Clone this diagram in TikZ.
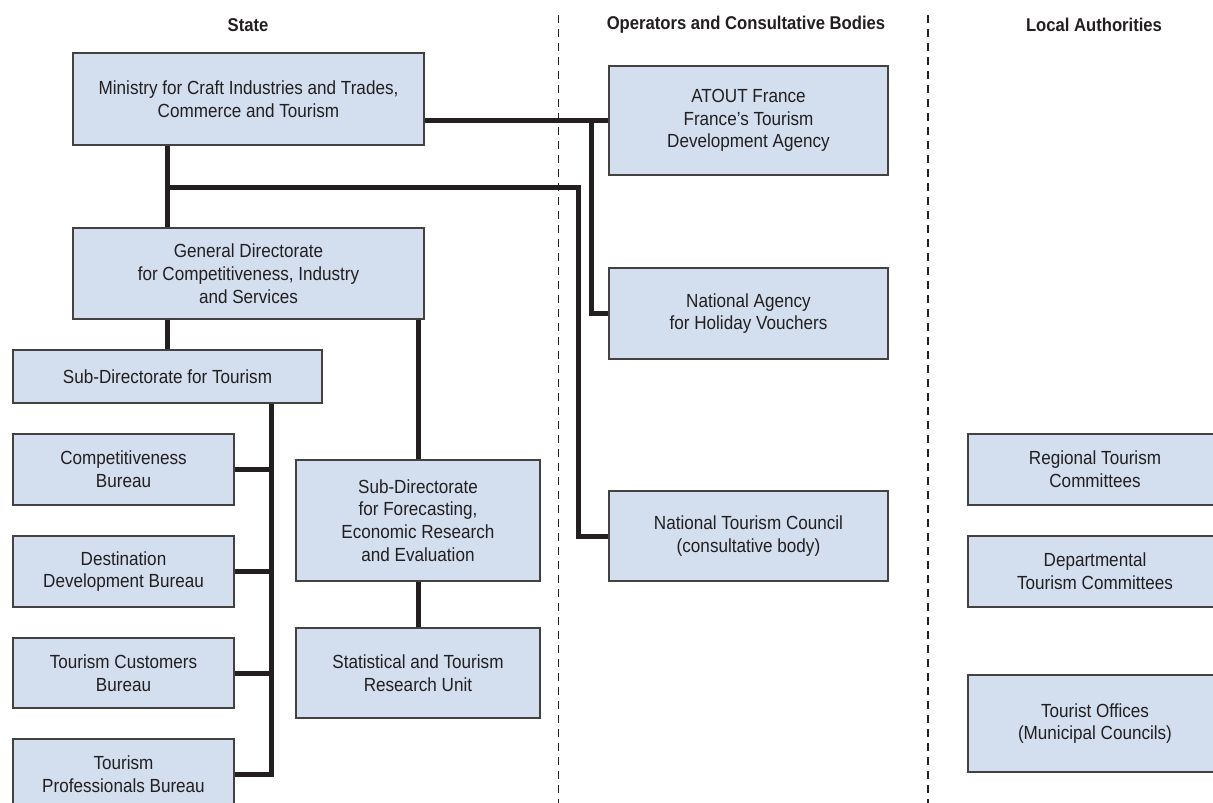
\documentclass[tikz,border=0pt]{standalone}
\usepackage{fontspec}
\setmainfont{Liberation Sans}[FakeStretch=0.9]
\definecolor{boxfill}{RGB}{211,222,239}
\definecolor{ink}{RGB}{35,31,32}
\begin{document}
\begin{tikzpicture}[x=1pt,y=-1pt,
  orgbox/.style={draw=ink!85, line width=1.3pt, fill=boxfill, inner sep=0pt,
    align=center, text=ink, font=\fontsize{19}{22.8}\selectfont},
  header/.style={text=ink, font=\bfseries\fontsize{18.5}{22}\selectfont, inner sep=0pt},
  link/.style={draw=ink, line width=5pt, line join=miter},
  divider/.style={draw=ink, line width=1.5pt, dash pattern=on 7.5pt off 6.5pt}]
\useasboundingbox (0,0) rectangle (1213,803);
\clip (0,0) rectangle (1213,803);

% column dividers
\coordinate (d1top) at (558.5,15);
\coordinate (d1bot) at (558.5,803);
\coordinate (d2top) at (928,15);
\coordinate (d2bot) at (928,803);
\draw[divider] (d1top) -- (d1bot);
\draw[divider] (d2top) -- (d2bot);

% headers
\node[header] (hstate) at (248,25) {State};
\node[header] (hops) at (746,25) {Operators and Consultative Bodies};
\node[header] (hlocal) at (1094,25) {Local Authorities};

% State column
\node[orgbox, minimum width=351pt, minimum height=92pt] (min) at (248.5,99)
  {Ministry for Craft Industries and Trades,\\Commerce and Tourism};
\node[orgbox, minimum width=351pt, minimum height=91pt] (gd) at (248.5,273.5)
  {General Directorate\\for Competitiveness, Industry\\and Services};
\node[orgbox, minimum width=309pt, minimum height=53pt] (sdt) at (167.5,376.5)
  {Sub-Directorate for Tourism};
\node[orgbox, minimum width=221pt, minimum height=71pt] (comp) at (123.5,469.5)
  {Competitiveness\\Bureau};
\node[orgbox, minimum width=221pt, minimum height=71pt] (dest) at (123.5,571.5)
  {Destination\\Development Bureau};
\node[orgbox, minimum width=221pt, minimum height=70pt] (cust) at (123.5,673)
  {Tourism Customers\\Bureau};
\node[orgbox, minimum width=221pt, minimum height=71pt] (prof) at (123.5,774.5)
  {Tourism\\Professionals Bureau};
\node[orgbox, minimum width=244pt, minimum height=121pt] (fore) at (418,520.5)
  {Sub-Directorate\\for Forecasting,\\Economic Research\\and Evaluation};
\node[orgbox, minimum width=244pt, minimum height=90pt] (stat) at (418,673)
  {Statistical and Tourism\\Research Unit};

% Operators column
\node[orgbox, minimum width=279pt, minimum height=109pt] (atout) at (748.5,120.5)
  {ATOUT France\\France’s Tourism\\Development Agency};
\node[orgbox, minimum width=279pt, minimum height=91pt] (nahv) at (748.5,313.5)
  {National Agency\\for Holiday Vouchers};
\node[orgbox, minimum width=279pt, minimum height=90pt] (ntc) at (748.5,536)
  {National Tourism Council\\(consultative body)};

% Local authorities column
\node[orgbox, minimum width=254pt, minimum height=71pt] (reg) at (1095,469.5)
  {Regional Tourism\\Committees};
\node[orgbox, minimum width=254pt, minimum height=71pt] (dep) at (1095,571.5)
  {Departmental\\Tourism Committees};
\node[orgbox, minimum width=254pt, minimum height=97pt] (tof) at (1095,723.5)
  {Tourist Offices\\(Municipal Councils)};

% connectors
\coordinate (busA) at (591,0);
\coordinate (busB) at (578,187);
\coordinate (busC) at (271,0);
\draw[link] (atout.west -| min.east) -- (atout.west);
\draw[link] (busA |- atout.west) |- (nahv.west);
\draw[link] (min.south -| sdt.north) -- (gd.north -| sdt.north);
\draw[link] (sdt.north |- busB) -- (busB) |- (ntc.west);
\draw[link] (gd.south -| sdt.north) -- (sdt.north);
\draw[link] (gd.south -| fore.north) -- (fore.north);
\draw[link] (fore.south) -- (stat.north);
\draw[link] (busC |- sdt.south) |- (prof.east);
\draw[link] (comp.east) -- (busC |- comp.east);
\draw[link] (dest.east) -- (busC |- dest.east);
\draw[link] (cust.east) -- (busC |- cust.east);
\end{tikzpicture}
\end{document}
